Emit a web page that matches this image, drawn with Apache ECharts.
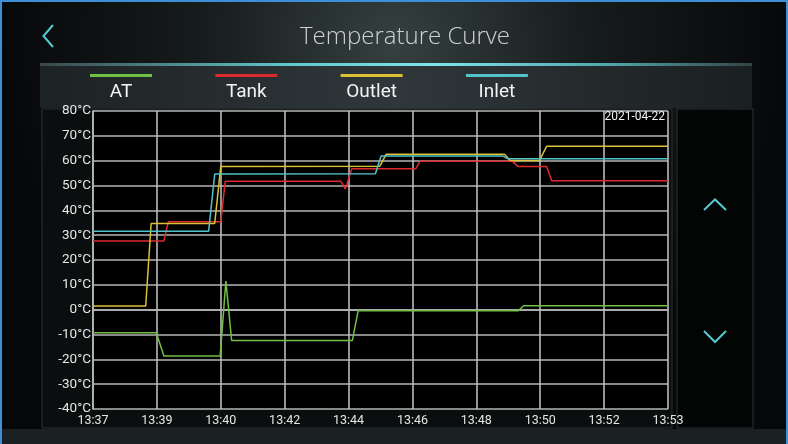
<!DOCTYPE html>
<html>
<head>
<meta charset="utf-8">
<script src="https://cdn.jsdelivr.net/npm/echarts@6/dist/echarts.min.js"></script>
<style>
  html, body { margin: 0; padding: 0; background: #000; }
  #chart { width: 788px; height: 444px; }
</style>
</head>
<body>
<div id="chart"></div>
<script>
// Axis tick labels (x is measured in tenths of one label step)
const timeLabels = ['13:37', '13:39', '13:40', '13:42', '13:44', '13:46', '13:48', '13:50', '13:52', '13:53'];
const dateLabel = '2021-04-22';
const seriesNames = ['AT', 'Tank', 'Outlet', 'Inlet'];
const seriesColors = ['#6fc043', '#dc2a2e', '#dcc233', '#52c3cb'];

// Recorded temperatures, [position, °C]
const atData = [[0, -9.3], [9.9, -9.3], [11.1, -18.7], [19.9, -18.7], [20.8, 11.5], [21.7, -12.4],
  [40.6, -12.4], [41.5, -0.4], [66.6, -0.4], [67.4, 1.6], [90, 1.6]];
const tankData = [[0, 27.7], [11.1, 27.7], [11.8, 35.4], [20.0, 35.4], [20.7, 51.7], [38.8, 51.7],
  [39.5, 48.6], [40.5, 56.7], [50.5, 56.7], [51.2, 59.8], [65.6, 59.8], [66.5, 57.7], [71.0, 57.7],
  [71.8, 51.9], [90, 51.9]];
const outletData = [[0, 1.5], [8.25, 1.5], [9.1, 34.7], [19.05, 34.7], [20.0, 57.7], [44.9, 57.8],
  [45.9, 62.6], [64.4, 62.6], [65.3, 60.1], [69.9, 60.1], [71.0, 65.8], [90, 65.8]];
const inletData = [[0, 31.6], [18.1, 31.6], [19.05, 54.6], [44.2, 54.7], [45.1, 61.9], [64.1, 61.9],
  [64.9, 60.8], [90, 60.8]];

const allData = [atData, tankData, outletData, inletData];

const chart = echarts.init(document.getElementById('chart'), null, { renderer: 'canvas' });

const cyan = '#55c9cf';
const panelStroke = '#2a3336';

// Legend drawn as a coloured bar above each name
const legendGraphics = [];
seriesNames.forEach((name, i) => {
  const cx = 121 + i * 125.3;
  legendGraphics.push({
    type: 'rect', z: 5,
    shape: { x: cx - 31, y: 74, width: 62, height: 3 },
    style: { fill: seriesColors[i] }
  });
  legendGraphics.push({
    type: 'text', z: 5,
    style: {
      x: cx, y: 92, text: name, fill: '#f2f2f2',
      font: '19px Roboto', textAlign: 'center', textVerticalAlign: 'middle'
    }
  });
});

function chevron(points) {
  return {
    type: 'polyline', z: 5,
    shape: { points: points },
    style: { stroke: cyan, lineWidth: 2, fill: null }
  };
}

const option = {
  animation: false,
  backgroundColor: {
    type: 'radial', x: 0.5, y: 0.1, r: 0.9,
    colorStops: [
      { offset: 0, color: '#354040' },
      { offset: 0.5, color: '#161b1c' },
      { offset: 1, color: '#060708' }
    ]
  },
  title: {
    text: 'Temperature Curve',
    left: 400, top: 20, textAlign: 'center',
    textStyle: { color: '#cfd2d2', fontSize: 24, fontWeight: 300, fontFamily: 'Open Sans' }
  },
  graphic: [
    // outer frame
    { type: 'rect', z: -20, shape: { x: 1, y: 1, width: 786, height: 450 },
      style: { fill: null, stroke: '#3e90d6', lineWidth: 2 } },
    // bottom strip below the panels
    { type: 'rect', z: -19, shape: { x: 2, y: 429, width: 784, height: 15 },
      style: { fill: '#1b2022' } },
    // header glow line and legend band
    { type: 'rect', z: -15, shape: { x: 40, y: 66, width: 712, height: 42 },
      style: { fill: { type: 'linear', x: 0, y: 0, x2: 1, y2: 0, colorStops: [
        { offset: 0, color: '#1d2224' }, { offset: 0.5, color: '#30373a' }, { offset: 1, color: '#1a1f21' }] } } },
    { type: 'rect', z: -14, shape: { x: 40, y: 63, width: 712, height: 3 },
      style: { fill: { type: 'linear', x: 0, y: 0, x2: 1, y2: 0, colorStops: [
        { offset: 0, color: '#3a4648' }, { offset: 0.35, color: '#5fc9cd' }, { offset: 0.55, color: '#7ee6ea' },
        { offset: 0.8, color: '#4fa7ab' }, { offset: 1, color: '#354244' }] } } },
    // chart and navigation panels
    { type: 'rect', z: -12, shape: { x: 42, y: 109, width: 630, height: 319 },
      style: { fill: '#0b0e0f', stroke: panelStroke, lineWidth: 1 } },
    { type: 'rect', z: -12, shape: { x: 677, y: 109, width: 76, height: 319 },
      style: { fill: '#030404', stroke: panelStroke, lineWidth: 1 } },
    // back, up and down buttons
    chevron([[53, 25], [43.5, 36], [53, 47]]),
    chevron([[704, 210], [715, 199.5], [726, 210]]),
    chevron([[704, 331], [715, 342], [726, 331]]),
    // date stamp
    { type: 'text', z: 6, style: { x: 665, y: 117, text: dateLabel, fill: '#f0f0f0',
      font: '12px Roboto', textAlign: 'right', textVerticalAlign: 'middle' } }
  ].concat(legendGraphics),
  grid: {
    left: 93, right: 120, top: 111, height: 298,
    show: true, backgroundColor: '#000', borderWidth: 0
  },
  xAxis: {
    type: 'value', min: 0, max: 90, interval: 10,
    axisLine: { show: true, lineStyle: { color: '#b8b8b8', width: 1.5 } },
    axisTick: { show: false },
    splitLine: { show: true, lineStyle: { color: '#c4c4c4', width: 1.5 } },
    axisLabel: {
      color: '#e6e6e6', fontSize: 12.5, fontFamily: 'Roboto', margin: 5,
      formatter: v => timeLabels[Math.round(v / 10)]
    }
  },
  yAxis: {
    type: 'value', min: -40, max: 80, interval: 10,
    axisLine: { show: true, lineStyle: { color: '#b8b8b8', width: 1.5 } },
    axisTick: { show: false },
    splitLine: { show: true, lineStyle: { color: '#b4b4b4', width: 1.5 } },
    axisLabel: {
      color: '#e6e6e6', fontSize: 13.5, fontFamily: 'Roboto', margin: 2,
      formatter: v => v + '°C'
    }
  },
  series: seriesNames.map((name, i) => ({
    name: name,
    type: 'line',
    data: allData[i],
    showSymbol: false,
    lineStyle: { color: seriesColors[i], width: 1.5 },
    itemStyle: { color: seriesColors[i] },
    z: 3
  }))
};

chart.setOption(option);
</script>
</body>
</html>
